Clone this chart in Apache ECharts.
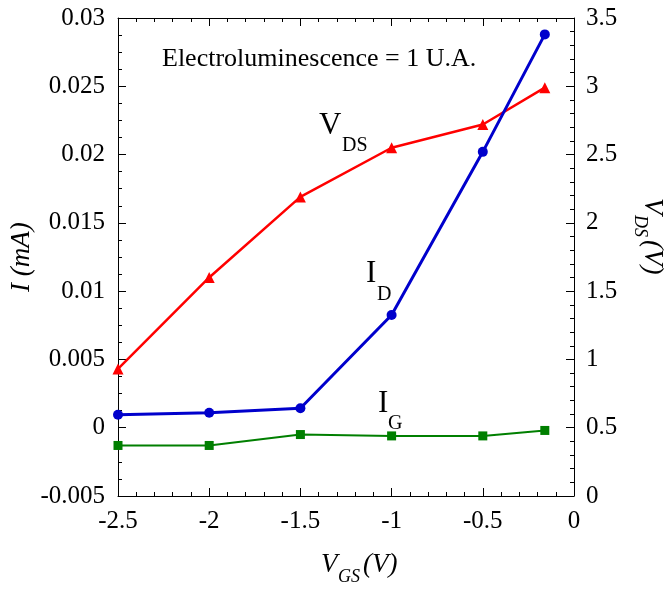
<!DOCTYPE html>
<html>
<head>
<meta charset="utf-8">
<script src="https://cdn.jsdelivr.net/npm/echarts@6/dist/echarts.min.js"></script>
<style>
html,body{margin:0;padding:0;background:#fff;}
#chart{width:672px;height:589px;}
</style>
</head>
<body>
<div id="chart"></div>
<script>
// ---- data ----
var vgs = [-2.5, -2, -1.5, -1, -0.5, -0.16];           // V_GS (V)
var idVals = [0.00095, 0.0011, 0.00142, 0.00825, 0.0202, 0.0288]; // I_D (mA)
var igVals = [-0.0013, -0.0013, -0.0005, -0.0006, -0.0006, -0.0002]; // I_G (mA)
var vdsVals = [0.93, 1.60, 2.19, 2.55, 2.72, 2.99];     // V_DS (V)

var xTicks = {min: -2.5, max: 0, interval: 0.5};
var leftTicks = {min: -0.005, max: 0.03, interval: 0.005};
var rightTicks = {min: 0, max: 3.5, interval: 0.5};

function pairs(xs, ys){ return xs.map(function(x,i){ return [x, ys[i]]; }); }

var FONT = 'Liberation Serif';
var chart = echarts.init(document.getElementById('chart'));

function fmt(v){ return String(parseFloat(v.toFixed(4))); }

function axis(extra, split){
  return Object.assign({
    type: 'value',
    axisLine: {show: true, onZero: false, lineStyle: {color: '#000', width: 1}},
    axisTick: {show: true, inside: true, length: 8, lineStyle: {color: '#000'}},
    minorTick: {show: true, splitNumber: split, length: 4, lineStyle: {color: '#000'}},
    splitLine: {show: false},
    axisLabel: {color: '#000', fontFamily: FONT, fontSize: 25, margin: 13, formatter: fmt}
  }, extra);
}

var option = {
  animation: false,
  backgroundColor: '#fff',
  textStyle: {fontFamily: FONT},
  grid: {left: 118, right: 98, top: 18, bottom: 93, containLabel: false},
  xAxis: [
    axis({position: 'bottom', min: xTicks.min, max: xTicks.max, interval: xTicks.interval}, 5),
    axis({position: 'top', min: xTicks.min, max: xTicks.max, interval: xTicks.interval, axisLabel: {show: false}}, 5)
  ],
  yAxis: [
    axis({position: 'left', min: leftTicks.min, max: leftTicks.max, interval: leftTicks.interval}, 4),
    axis({position: 'right', min: rightTicks.min, max: rightTicks.max, interval: rightTicks.interval,
      axisLabel: {color: '#000', fontFamily: FONT, fontSize: 25, margin: 12, formatter: fmt}}, 5)
  ],
  series: [
    {
      name: 'VDS', type: 'line', yAxisIndex: 1, data: pairs(vgs, vdsVals),
      symbol: 'triangle', symbolSize: 11,
      lineStyle: {color: '#ff0000', width: 2.5}, itemStyle: {color: '#ff0000'}, z: 3
    },
    {
      name: 'ID', type: 'line', yAxisIndex: 0, data: pairs(vgs, idVals),
      symbol: 'circle', symbolSize: 10,
      lineStyle: {color: '#0000cc', width: 3}, itemStyle: {color: '#0000cc'}, z: 4
    },
    {
      name: 'IG', type: 'line', yAxisIndex: 0, data: pairs(vgs, igVals),
      symbol: 'rect', symbolSize: 9,
      lineStyle: {color: '#007f00', width: 2}, itemStyle: {color: '#007f00'}, z: 2
    }
  ],
  graphic: [
    {type: 'text', left: 162, top: 46, style: {text: 'Electroluminescence = 1 U.A.', font: '26px ' + FONT, fill: '#000'}},
    // V_DS label
    {type: 'text', x: 319, y: 110, style: {text: 'V', font: '31px ' + FONT, fill: '#000'}},
    {type: 'text', x: 342, y: 136, style: {text: 'DS', font: '20px ' + FONT, fill: '#000'}},
    // I_D label
    {type: 'text', x: 366, y: 258, style: {text: 'I', font: '31px ' + FONT, fill: '#000'}},
    {type: 'text', x: 377, y: 285, style: {text: 'D', font: '20px ' + FONT, fill: '#000'}},
    // I_G label
    {type: 'text', x: 378, y: 388, style: {text: 'I', font: '31px ' + FONT, fill: '#000'}},
    {type: 'text', x: 388, y: 414, style: {text: 'G', font: '20px ' + FONT, fill: '#000'}},
    // x axis name V_GS(V)
    {type: 'group', x: 321, y: 551, children: [
      {type: 'text', x: 0, y: 0, style: {text: 'V', font: 'italic 27px ' + FONT, fill: '#000'}},
      {type: 'text', x: 17, y: 17, style: {text: 'GS', font: 'italic 18px ' + FONT, fill: '#000'}},
      {type: 'text', x: 42, y: 0, style: {text: '(V)', font: 'italic 27px ' + FONT, fill: '#000'}}
    ]},
    // left axis name I (mA)
    {type: 'group', x: 8, y: 292, rotation: Math.PI / 2, children: [
      {type: 'text', x: 0, y: 0, style: {text: 'I (mA)', font: 'italic 27px ' + FONT, fill: '#000'}}
    ]},
    // right axis name V_DS(V)
    {type: 'group', x: 666, y: 198, rotation: -Math.PI / 2, children: [
      {type: 'text', x: 0, y: 0, style: {text: 'V', font: 'italic 27px ' + FONT, fill: '#000'}},
      {type: 'text', x: 17, y: 17, style: {text: 'DS', font: 'italic 18px ' + FONT, fill: '#000'}},
      {type: 'text', x: 42, y: 0, style: {text: '(V)', font: 'italic 27px ' + FONT, fill: '#000'}}
    ]}
  ]
};
chart.setOption(option);
</script>
</body>
</html>
